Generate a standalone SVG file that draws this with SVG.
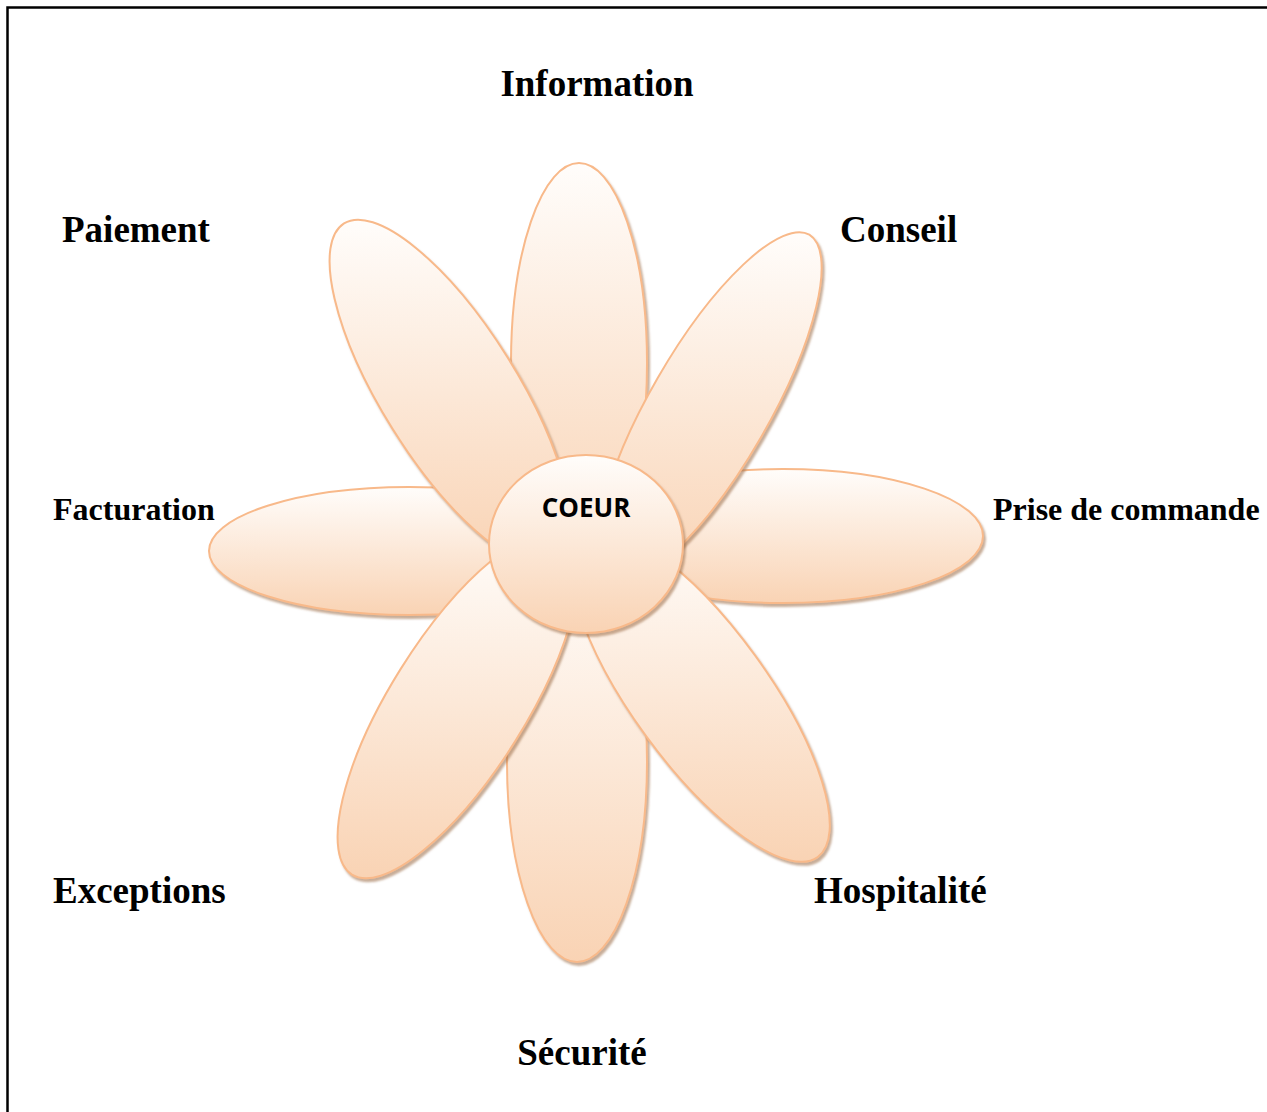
<svg xmlns="http://www.w3.org/2000/svg" width="1267" height="1112" viewBox="0 0 1267 1112">
<defs>
<linearGradient id="pg" x1="0" y1="0" x2="0" y2="1">
<stop offset="0" stop-color="#fffdfb"/>
<stop offset="1" stop-color="#f9d3b4"/>
</linearGradient>
<filter id="sh" x="-10%" y="-10%" width="125%" height="125%">
<feDropShadow dx="2" dy="3" stdDeviation="1" flood-color="#9a6a45" flood-opacity="0.55"/>
</filter>
<style>
.petal{fill:url(#pg);stroke:#f8b98a;stroke-width:2;filter:url(#sh)}
.lbl{font-family:"Liberation Serif","Times New Roman",serif;font-weight:bold;fill:#000}
.big{font-size:37px}
.small{font-size:32px}
.core{font-family:"Open Sans","Liberation Sans",sans-serif;font-weight:bold;font-size:26px;fill:#000}
</style>
</defs>
<rect width="1267" height="1112" fill="#fff"/>
<path d="M7.5 1112 V7.5 H1267" fill="none" stroke="#000" stroke-width="2.5"/>
<g id="petal-information"><ellipse class="petal" cx="579" cy="363" rx="68" ry="200"/></g>
<g id="petal-securite"><ellipse class="petal" cx="577" cy="762" rx="70" ry="200"/></g>
<g id="petal-facturation"><ellipse class="petal" cx="409" cy="551" rx="200" ry="64"/></g>
<g id="petal-prise"><ellipse class="petal" cx="783" cy="536" rx="200" ry="67"/></g>
<g id="petal-paiement"><path class="petal" d="M555.98 562.61 A200 68 58 0 1 344.02 223.39 A200 68 58 0 1 555.98 562.61 Z"/></g>
<g id="petal-conseil"><path class="petal" d="M609.3 581 A200 60 120 0 1 809.3 234.6 A200 60 120 0 1 609.3 581 Z"/></g>
<g id="petal-exceptions"><path class="petal" d="M563.98 535.39 A200 68 122 0 1 352.02 874.61 A200 68 122 0 1 563.98 535.39 Z"/></g>
<g id="petal-hospitalite"><path class="petal" d="M582.64 533.5 A200 68 54 0 1 817.76 857.1 A200 68 54 0 1 582.64 533.5 Z"/></g>
<g id="coeur">
<ellipse class="petal" cx="586" cy="544" rx="97" ry="89"/>
<text class="core" x="586" y="517" text-anchor="middle">COEUR</text>
</g>
<g id="labels">
<text class="lbl big" x="597" y="96" text-anchor="middle">Information</text>
<text class="lbl big" x="62" y="242">Paiement</text>
<text class="lbl big" x="840" y="242">Conseil</text>
<text class="lbl small" x="53" y="520">Facturation</text>
<text class="lbl small" x="993" y="520">Prise de commande</text>
<text class="lbl big" x="53" y="903">Exceptions</text>
<text class="lbl big" x="814" y="903">Hospitalité</text>
<text class="lbl big" x="582" y="1065" text-anchor="middle">Sécurité</text>
</g>
</svg>
